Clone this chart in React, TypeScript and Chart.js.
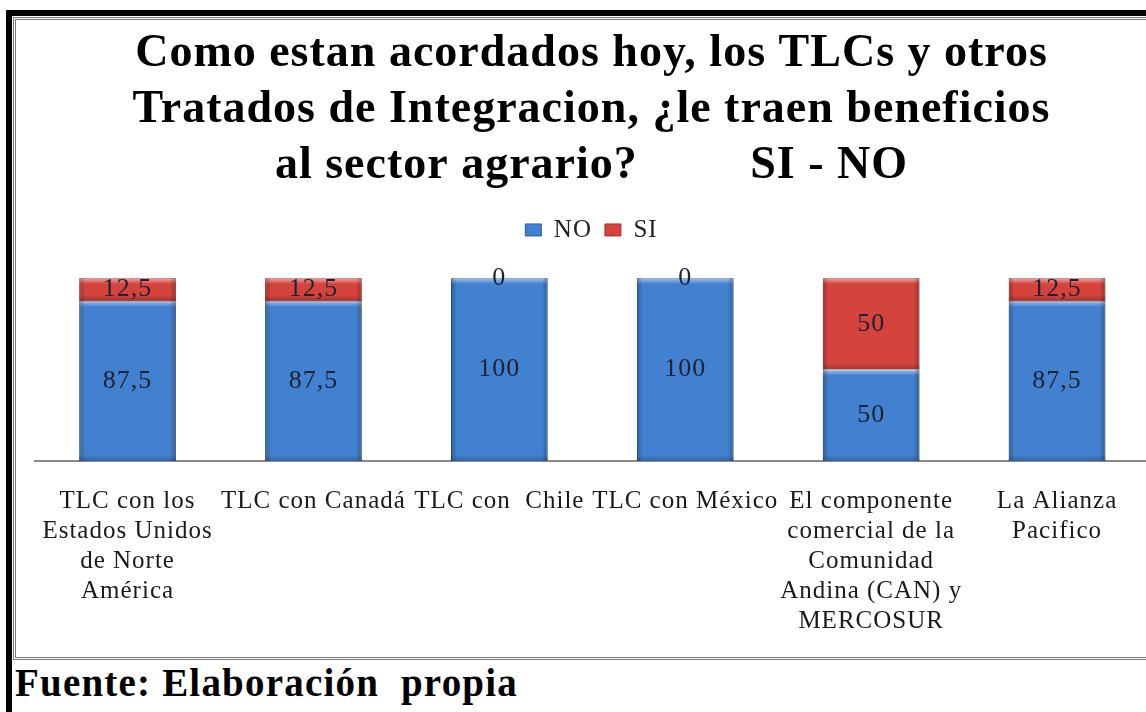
import React, { useEffect, useRef } from "react";
import { Chart, registerables } from "chart.js";

Chart.register(...registerables);

const titleLines = [
  "Como estan acordados hoy, los TLCs y otros",
  "Tratados de Integracion, ¿le traen beneficios",
  "al sector agrario?         SI - NO",
];

const categories: (string | string[])[] = [
  ["TLC con los", "Estados Unidos", "de Norte", "América"],
  "TLC con Canadá",
  "TLC con  Chile",
  "TLC con México",
  ["El componente", "comercial de la", "Comunidad", "Andina (CAN) y", "MERCOSUR"],
  ["La Alianza", "Pacifico"],
];

const seriesNames = ["NO", "SI"];
const noValues = [87.5, 87.5, 100, 100, 50, 87.5];
const siValues = [12.5, 12.5, 0, 0, 50, 12.5];

const Y_MAX = 114;
const SERIF = "'Liberation Serif', 'Times New Roman', serif";

const spacingPlugin = {
  id: "spacing",
  beforeUpdate(chart: any) {
    (chart.ctx as any).letterSpacing = "1px";
  },
  beforeDraw(chart: any) {
    (chart.ctx as any).letterSpacing = "1px";
  },
};

const bevelPlugin = {
  id: "bevel",
  afterDatasetsDraw(chart: any) {
    const ctx = chart.ctx as CanvasRenderingContext2D;
    chart.data.datasets.forEach((_ds: any, di: number) => {
      const meta = chart.getDatasetMeta(di);
      meta.data.forEach((el: any) => {
        const { x, y, base, width } = el.getProps(["x", "y", "base", "width"], true);
        const l = x - width / 2;
        const t = Math.min(y, base);
        const b = Math.max(y, base);
        const h = b - t;
        if (h < 1) return;
        const e = Math.min(6, h / 2);
        ctx.save();
        let g = ctx.createLinearGradient(0, t, 0, t + e);
        g.addColorStop(0, "rgba(255,255,255,0.55)");
        g.addColorStop(1, "rgba(255,255,255,0)");
        ctx.fillStyle = g;
        ctx.fillRect(l, t, width, e);
        g = ctx.createLinearGradient(l, 0, l + e, 0);
        g.addColorStop(0, "rgba(0,0,0,0.25)");
        g.addColorStop(1, "rgba(0,0,0,0)");
        ctx.fillStyle = g;
        ctx.fillRect(l, t, e, h);
        g = ctx.createLinearGradient(l + width, 0, l + width - e, 0);
        g.addColorStop(0, "rgba(0,0,0,0.28)");
        g.addColorStop(1, "rgba(0,0,0,0)");
        ctx.fillStyle = g;
        ctx.fillRect(l + width - e, t, e, h);
        g = ctx.createLinearGradient(0, b, 0, b - e);
        g.addColorStop(0, "rgba(0,0,0,0.22)");
        g.addColorStop(1, "rgba(0,0,0,0)");
        ctx.fillStyle = g;
        ctx.fillRect(l, b - e, width, e);
        ctx.restore();
      });
    });
  },
};

const valueLabelPlugin = {
  id: "valueLabels",
  afterDatasetsDraw(chart: any) {
    const ctx = chart.ctx as CanvasRenderingContext2D;
    ctx.save();
    ctx.font = `26px ${SERIF}`;
    ctx.fillStyle = "#1e2235";
    ctx.textAlign = "center";
    ctx.textBaseline = "middle";
    chart.data.datasets.forEach((ds: any, di: number) => {
      const meta = chart.getDatasetMeta(di);
      meta.data.forEach((el: any, i: number) => {
        const { x, y, base } = el.getProps(["x", "y", "base"], true);
        const v = ds.data[i];
        const txt = String(v).replace(".", ",");
        ctx.fillText(txt, x, (y + base) / 2);
      });
    });
    ctx.restore();
  },
};

export default function App() {
  const ref = useRef<HTMLCanvasElement | null>(null);

  useEffect(() => {
    if (!ref.current) return;
    const chart = new Chart(ref.current, {
      type: "bar",
      data: {
        labels: categories as any,
        datasets: [
          {
            label: seriesNames[0],
            data: noValues,
            backgroundColor: "#4281CF",
            borderColor: "#2D5E9E",
            borderWidth: 1,
            barPercentage: 0.52,
            categoryPercentage: 1,
          },
          {
            label: seriesNames[1],
            data: siValues,
            backgroundColor: "#D5433D",
            borderColor: "#A53330",
            borderWidth: 1,
            barPercentage: 0.52,
            categoryPercentage: 1,
          },
        ],
      },
      options: {
        animation: false,
        responsive: false,
        maintainAspectRatio: false,
        events: [],
        layout: { padding: { left: 17, right: 16, top: 0, bottom: 0 } },
        plugins: {
          title: {
            display: true,
            text: titleLines,
            color: "#000",
            font: { family: SERIF, size: 46, weight: "bold", lineHeight: 1.217 },
            padding: { top: 7, bottom: 10.5 },
          },
          legend: {
            display: true,
            position: "top",
            labels: {
              color: "#222",
              font: { family: SERIF, size: 25 },
              boxWidth: 16,
              boxHeight: 12,
              padding: 13,
            },
          },
          tooltip: { enabled: false },
        },
        scales: {
          x: {
            stacked: true,
            grid: { display: false, drawTicks: false },
            border: { display: true, color: "#8a8a8a", width: 2 },
            ticks: {
              color: "#1a1a1a",
              font: { family: SERIF, size: 25, lineHeight: 1.2 },
              padding: 25,
              maxRotation: 0,
              minRotation: 0,
              autoSkip: false,
            },
          },
          y: {
            stacked: true,
            display: false,
            min: 0,
            max: Y_MAX,
          },
        },
      },
      plugins: [spacingPlugin, bevelPlugin, valueLabelPlugin],
    });
    return () => chart.destroy();
  }, []);

  return (
    <div
      style={{
        position: "fixed",
        left: 0,
        top: 0,
        width: 1146,
        height: 712,
        overflow: "hidden",
        background: "#fff",
      }}
    >
      <div
        style={{
          position: "absolute",
          left: 13,
          top: 17,
          width: 1200,
          height: 637,
          border: "3px double #7a7a7a",
        }}
      />
      <canvas
        ref={ref}
        width={1150}
        height={642}
        style={{ position: "absolute", left: 16, top: 19, width: 1150, height: 642 }}
      />
      <div style={{ position: "absolute", left: 6, top: 10, width: 1140, height: 6, background: "#000" }} />
      <div style={{ position: "absolute", left: 6, top: 10, width: 6, height: 702, background: "#000" }} />
      <div
        style={{
          position: "absolute",
          left: 15,
          top: 663,
          font: `bold 39px ${SERIF}`,
          lineHeight: "39px",
          letterSpacing: "1.2px",
          color: "#000",
          whiteSpace: "pre",
        }}
      >
        {"Fuente: Elaboración  propia"}
      </div>
    </div>
  );
}
